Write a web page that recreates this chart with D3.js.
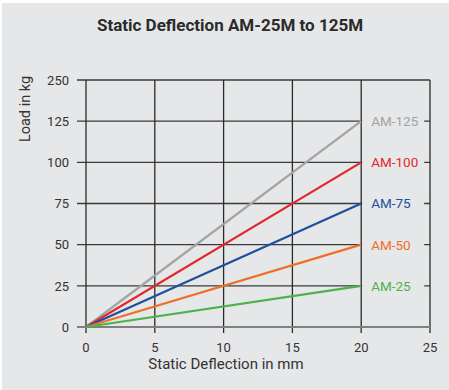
<!DOCTYPE html>
<html><head><meta charset="utf-8">
<script src="https://cdn.jsdelivr.net/npm/d3@7"></script>
<style>
html,body{margin:0;padding:0;background:#fff;}
svg{display:block;}
text{font-family:Roboto,"Open Sans",sans-serif;}
</style></head>
<body>
<svg id="chart" width="449" height="390"></svg>
<script>
const title = "Static Deflection AM-25M to 125M";
const xLabel = "Static Deflection in mm";
const yLabel = "Load in kg";
const xTicks = [0, 5, 10, 15, 20, 25];
const yTickPositions = [0, 25, 50, 75, 100, 125, 150];
const yTickLabels = ["0", "25", "50", "75", "100", "125", "250"];
const seriesNames = ["AM-125", "AM-100", "AM-75", "AM-50", "AM-25"];
const seriesColors = ["#a3a3a3", "#e2282c", "#1e4f9e", "#ee7026", "#4db24b"];
const deflection = [0, 20];
const loads = [[0, 125], [0, 100], [0, 75], [0, 50], [0, 25]];

const svg = d3.select("#chart");
const bg = "#e6e7e8";
svg.append("rect").attr("x", 2).attr("y", 3).attr("width", 447).attr("height", 387).attr("fill", bg);

const x = d3.scaleLinear().domain([0, 25]).range([86, 430]);
const y = d3.scaleLinear().domain([0, 150]).range([327, 80]);

svg.append("text").attr("x", 230).attr("y", 30.5).attr("text-anchor", "middle")
  .attr("font-size", 17).attr("font-weight", "bold").attr("fill", "#2b2b2b").text(title);

// horizontal grid
const gy = svg.append("g");
gy.selectAll("line").data(yTickPositions.filter(d => d > 0)).enter().append("line")
  .attr("x1", 77).attr("x2", x(25)).attr("y1", d => y(d)).attr("y2", d => y(d))
  .attr("stroke", "#3a3a3a").attr("stroke-width", 1.3);
// vertical grid
const gx = svg.append("g");
gx.selectAll("line").data(xTicks).enter().append("line")
  .attr("x1", d => x(d)).attr("x2", d => x(d)).attr("y1", y(150)).attr("y2", 333)
  .attr("stroke", "#2a2a2a").attr("stroke-width", 1.3);
// zero baseline
svg.append("line").attr("x1", 77).attr("x2", x(25)).attr("y1", y(0)).attr("y2", y(0))
  .attr("stroke", "#808080").attr("stroke-width", 2);

// y tick labels
svg.append("g").selectAll("text").data(yTickPositions).enter().append("text")
  .attr("x", 69).attr("y", d => y(d)).attr("dy", "0.36em").attr("text-anchor", "end")
  .attr("font-size", 13).attr("fill", "#333").text((d, i) => yTickLabels[i]);
// x tick labels
svg.append("g").selectAll("text").data(xTicks).enter().append("text")
  .attr("x", d => x(d)).attr("y", 352).attr("text-anchor", "middle")
  .attr("font-size", 13).attr("fill", "#333").text(d => d);

svg.append("text").attr("x", 226).attr("y", 369).attr("text-anchor", "middle")
  .attr("font-size", 15).attr("fill", "#333").text(xLabel);
svg.append("text").attr("transform", "translate(29.5,109) rotate(-90)").attr("text-anchor", "middle")
  .attr("font-size", 14.5).attr("fill", "#333").text(yLabel);

// series lines
const line = d3.line().x((d, i) => x(deflection[i])).y(d => y(d));
svg.append("g").selectAll("path").data(loads).enter().append("path")
  .attr("d", d => line(d)).attr("fill", "none")
  .attr("stroke", (d, i) => seriesColors[i]).attr("stroke-width", 2.2);

// labels with background
const lg = svg.append("g");
loads.forEach((d, i) => {
  const yy = y(d[1]);
  lg.append("rect").attr("x", x(20) + 1).attr("y", yy - 8).attr("width", 62).attr("height", 16).attr("fill", bg);
  lg.append("text").attr("x", x(20) + 10).attr("y", yy).attr("dy", "0.36em")
    .attr("font-size", 13.5).attr("fill", seriesColors[i]).text(seriesNames[i]);
});
</script>
</body></html>
